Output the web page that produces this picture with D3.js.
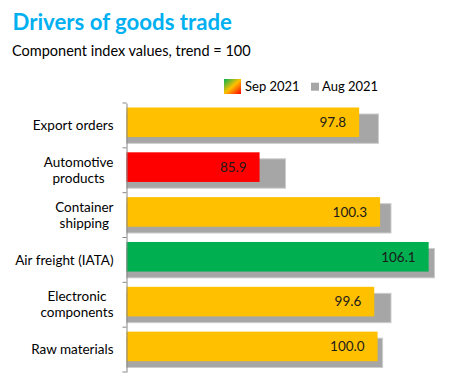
<!DOCTYPE html>
<html>
<head>
<meta charset="utf-8">
<script src="https://cdn.jsdelivr.net/npm/d3@7"></script>
<style>
  html, body { margin: 0; padding: 0; background: #fff; }
  svg { display: block; font-family: Lato, "Open Sans", sans-serif; }
</style>
</head>
<body>
<svg id="chart" width="451" height="383"></svg>
<script>
const categories = [
  ["Export orders"],
  ["Automotive", "products"],
  ["Container", "shipping"],
  ["Air freight (IATA)"],
  ["Electronic", "components"],
  ["Raw materials"]
];
const sepValues = [97.8, 85.9, 100.3, 106.1, 99.6, 100.0];
const augValues = [100.1, 89.0, 101.6, 106.8, 101.6, 100.6];
const sepColors = ["#FFC000", "#FF0000", "#FFC000", "#00B050", "#FFC000", "#FFC000"];
const seriesNames = ["Sep 2021", "Aug 2021"];
const xDomain = [70, 110];

const svg = d3.select("#chart");
const ids = categories.map((c, i) => "c" + i);

const x = d3.scaleLinear().domain(xDomain).range([126.5, 126.5 + 40 * 8.37]);
const y = d3.scaleBand().domain(ids).range([103, 372]).padding(0);
const bw = y.bandwidth();

// Title
svg.append("text").attr("x", 12.5).attr("y", 30)
  .attr("font-size", 22.2).attr("font-weight", "bold").attr("fill", "#00B0F0")
  .text("Drivers of goods trade");
svg.append("text").attr("x", 12).attr("y", 56)
  .attr("font-size", 14.5).attr("fill", "#000")
  .text("Component index values, trend = 100");

// Legend
const defs = svg.append("defs");
const grad = defs.append("linearGradient").attr("id", "lg")
  .attr("x1", 0).attr("y1", 0).attr("x2", 1).attr("y2", 1);
grad.append("stop").attr("offset", "0%").attr("stop-color", "#00B050");
grad.append("stop").attr("offset", "50%").attr("stop-color", "#FFC000");
grad.append("stop").attr("offset", "100%").attr("stop-color", "#FF0000");

const lg = svg.append("g");
lg.append("rect").attr("x", 224).attr("y", 79).attr("width", 17).attr("height", 15).attr("fill", "url(#lg)");
lg.append("text").attr("x", 245).attr("y", 90.7).attr("font-size", 13).attr("fill", "#000").text(seriesNames[0]);
lg.append("rect").attr("x", 311).attr("y", 82.7).attr("width", 8).attr("height", 8).attr("fill", "#A6A6A6");
lg.append("text").attr("x", 322).attr("y", 90.7).attr("font-size", 13).attr("fill", "#000").text(seriesNames[1]);

// Aug bars (behind)
svg.append("g").selectAll("rect").data(augValues).join("rect")
  .attr("x", x(xDomain[0]))
  .attr("y", (d, i) => y(ids[i]) + bw * 0.245)
  .attr("width", d => x(d) - x(xDomain[0]))
  .attr("height", bw * 0.655)
  .attr("fill", "#A6A6A6")
  .attr("stroke", "#CDCDCD").attr("stroke-width", 1);

// Sep bars
svg.append("g").selectAll("rect").data(sepValues).join("rect")
  .attr("x", x(xDomain[0]))
  .attr("y", (d, i) => y(ids[i]) + bw * 0.1)
  .attr("width", d => x(d) - x(xDomain[0]))
  .attr("height", bw * 0.66)
  .attr("fill", (d, i) => sepColors[i]);

// Value labels
svg.append("g").selectAll("text").data(sepValues).join("text")
  .attr("x", d => x(d) - 13)
  .attr("y", (d, i) => y(ids[i]) + bw * 0.1 + bw * 0.33)
  .attr("dy", "0.35em")
  .attr("text-anchor", "end")
  .attr("font-size", 13.5).attr("fill", "#1a1a1a")
  .text(d => d.toFixed(1));

// Axis
const axis = d3.axisLeft(y).tickSize(4).tickFormat("").tickSizeOuter(0);
const ag = svg.append("g").attr("transform", `translate(${x(xDomain[0])},0)`).call(axis);
ag.select(".domain").attr("stroke", "#888");
ag.selectAll(".tick").remove();
// boundary ticks between categories
const bounds = ids.map(id => y(id)).concat([y.range()[1]]);
ag.selectAll("line.b").data(bounds).join("line").attr("class", "b")
  .attr("x1", -4).attr("x2", 0).attr("y1", d => d).attr("y2", d => d)
  .attr("stroke", "#888");

// Category labels
const lblRight = 113.5;
const lineH = 16;
categories.forEach((lines, i) => {
  const cy = y(ids[i]) + bw / 2;
  const g = svg.append("g");
  const texts = lines.map((t, j) => g.append("text")
    .attr("font-size", 13.5).attr("fill", "#000").attr("text-anchor", "middle")
    .attr("y", cy + (j - (lines.length - 1) / 2) * lineH)
    .attr("dy", "0.35em").text(t));
  const maxW = d3.max(texts, t => t.node().getComputedTextLength());
  texts.forEach(t => t.attr("x", lblRight - maxW / 2));
});
</script>
</body>
</html>
